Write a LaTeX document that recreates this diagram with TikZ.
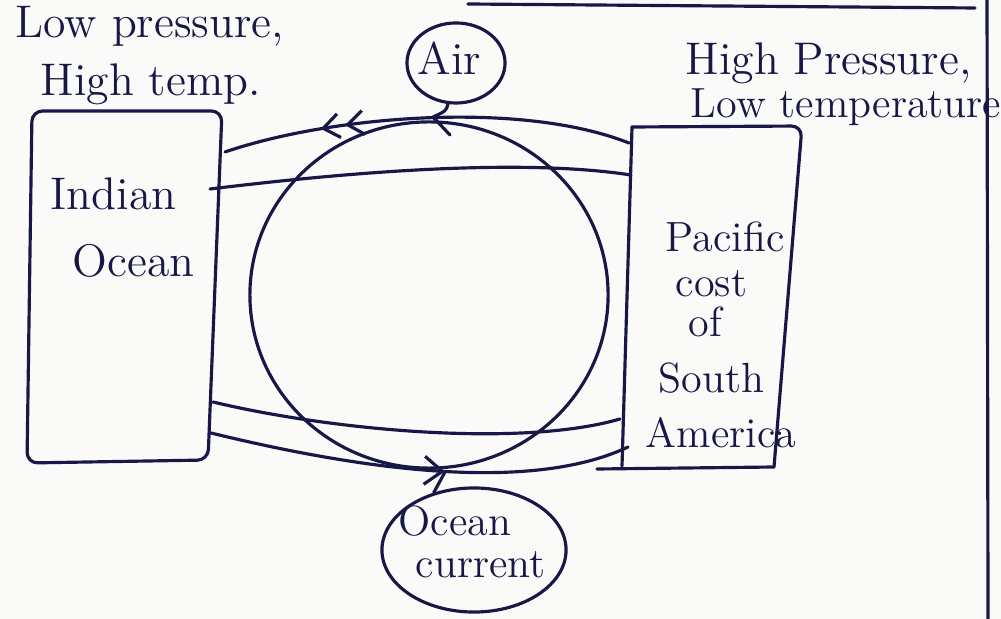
\documentclass[tikz,border=0pt]{standalone}
\usetikzlibrary{decorations.markings,shapes.geometric,arrows.meta}
\definecolor{ink}{RGB}{24,24,72}
\definecolor{paper}{RGB}{250,250,248}
\begin{document}
\begin{tikzpicture}[x=0.01cm,y=-0.01cm,
  pen/.style={draw=ink, line width=0.9pt, line cap=round, line join=round},
  lbl/.style={text=ink, inner sep=0pt, anchor=base west, font=\fontsize{#1}{#1}\selectfont},
  lbl/.default=12pt,
  bubble/.style={pen, ellipse, inner sep=0pt},
  tipleft/.style={postaction={decorate}, decoration={markings,
     mark=at position 0.70 with {\arrow[ink,line width=0.9pt]{Straight Barb[length=1.6mm,width=2.4mm]}},
     mark=at position 0.76 with {\arrow[ink,line width=0.9pt]{Straight Barb[length=1.6mm,width=2.4mm]}}}},
  tipright/.style={postaction={decorate}, decoration={markings,
     mark=at position 0.56 with {\arrow[ink,line width=0.9pt]{Straight Barb[length=1.8mm,width=2.8mm]}}}}]
\fill[paper] (0,0) rectangle (1001,619);
\useasboundingbox (0,0) rectangle (1001,619);

% page edges
\draw[pen] (468,4) -- (975,8);
\draw[pen] (987,0) -- (988,619);

% boxes
\draw[pen, rounded corners=3pt] (32,111) -- (222,111) -- (208,460) -- (27,463) -- cycle;
\draw[pen, rounded corners=3pt] (632,127) -- (802,126) -- (774,467);
\draw[pen] (632,127) -- (622,466);
\draw[pen] (597,469) -- (774,467);

% labels
\node[lbl=13pt] (lowp) at (15,38) {Low pressure,};
\node[lbl=13pt] (hight) at (40,96) {High temp.};
\node[lbl=13pt] (highp) at (685,75) {High Pressure,};
\node[lbl=12pt] (lowt) at (690,118) {Low temperature};
\node[lbl=13pt] (ind1) at (50,210) {Indian};
\node[lbl=13pt] (ind2) at (72,277) {Ocean};
\node[lbl=12pt] (pac1) at (665,252) {Pacific};
\node[lbl=12pt] (pac2) at (675,297) {cost};
\node[lbl=12pt] (pac3) at (688,337) {of};
\node[lbl=12pt] (pac4) at (658,393) {South};
\node[lbl=12pt] (pac5) at (645,447) {America};

% central loop
\node[pen, ellipse, minimum width=3.58cm, minimum height=3.46cm] (loop) at (429,295) {};

% connector end points on the boxes
\coordinate (i1) at (225,152);
\coordinate (i2) at (210,189);
\coordinate (i3) at (213,402);
\coordinate (i4) at (211,433);
\coordinate (p1) at (629,143);
\coordinate (p2) at (631,175);
\coordinate (p3) at (620,419);
\coordinate (p4) at (628,447);

% air flows (top)
\draw[pen, tipleft] (p1) .. controls (520,100) and (330,116) .. (i1);
\draw[pen] (i2) .. controls (350,172) and (520,158) .. (p2);
% ocean flows (bottom)
\draw[pen] (i3) .. controls (330,430) and (520,448) .. (p3);
\draw[pen, tipright] (i4) .. controls (330,462) and (520,498) .. (p4);

% bubbles
\node[bubble, minimum width=0.98cm, minimum height=0.80cm] (air) at (456,63) {};
\node[lbl=13pt] (airtxt) at (417,75) {Air};
\coordinate (airtip) at (433,117);
\coordinate (airend) at (450,135);
\draw[pen] (air.-101) .. controls (446,111) .. (airtip) -- (airend);

\node[bubble, minimum width=1.84cm, minimum height=1.24cm] (ocean) at (474,550) {};
\node[lbl=12pt] (oc1) at (398,535) {Ocean};
\node[lbl=12pt] (oc2) at (415,577) {current};
\coordinate (octip) at (445,472);
\draw[pen] (ocean.125) -- (octip);
\end{tikzpicture}
\end{document}
